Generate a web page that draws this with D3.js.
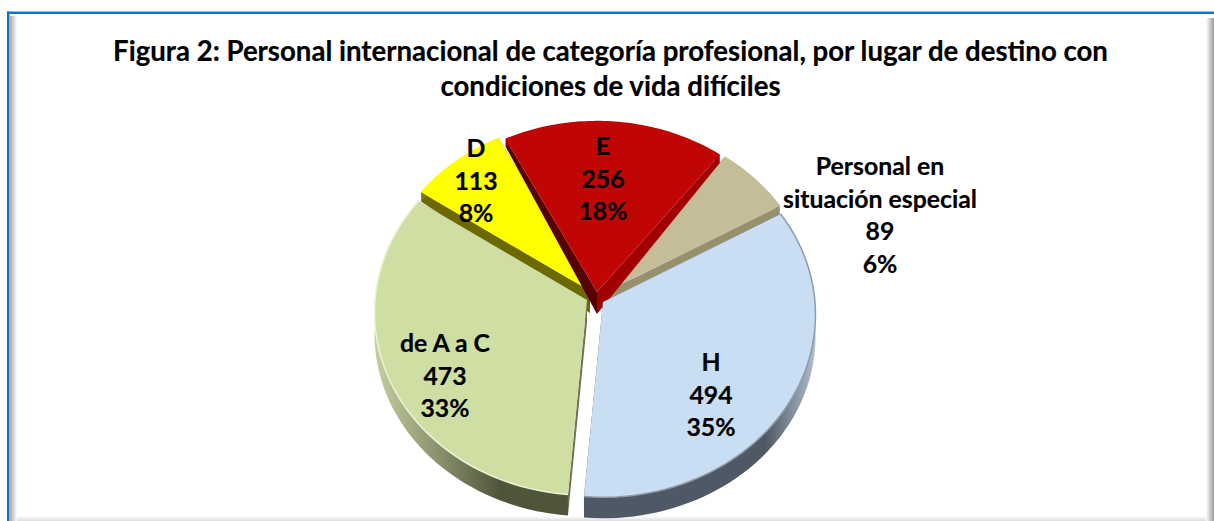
<!DOCTYPE html>
<html>
<head>
<meta charset="utf-8">
<script src="https://cdn.jsdelivr.net/npm/d3@7"></script>
<style>
  html, body { margin: 0; padding: 0; background: #fff; overflow: hidden; }
  text { font-family: Lato, "Open Sans", sans-serif; font-weight: 700; fill: #000; stroke: #000; stroke-width: 0.2px; }
</style>
</head>
<body>
<svg width="1214" height="521"></svg>
<script>
const titleLines = [
    'Figura 2: Personal internacional de categoría profesional, por lugar de destino con',
    'condiciones de vida difíciles'
]
const categories = ['H', 'de A a C', 'D', 'E', 'Personal en situación especial']
const values = [494, 473, 113, 256, 89]
const percents = ['35%', '33%', '8%', '18%', '6%']

// where the pie of each slice sits and how it looks, same order as categories
const centres = [[603, 302], [587, 300], [590, 291], [597, 292], [602, 294]]
const topColors = ['#c9ddf3', '#cfdfa4', '#ffff00', '#c00505', '#c4bd97']
const rimLight = ['#aebccb', '#c6cfa0', '#8f8c00', '#a00000', '#a8a283']
const rimDark = ['#4f5965', '#4f553a', '#6b6900', '#a00000', '#96906f']
const startFace = ['#4f5965', '#6e7452', '#6b6900', '#560000', '#96906f']
const endFace = ['#4f5965', '#6e7452', '#6b6900', '#a00000', '#96906f']
const bevel = ['#8d9bab', '#eef3d8', '#ffff00', '#c00505', '#c4bd97']
const labelPos = [[711, 363], [445, 344], [476, 149], [603, 147], [880, 167]]
const labelLines = [['H'], ['de A a C'], ['D'], ['E'], ['Personal en', 'situación especial']]

const rx = 212, ry = 182, persp = 0.068
const svg = d3.select('svg')

// thickness of the pie gets smaller towards the back
const depth = d3.scaleLinear().domain([-1, -0.5, 0, 1]).range([7, 10, 22, 21])

function project (a, r, c) {
    let u = Math.sin(a) * r
    let v = -Math.cos(a) * r
    let s = 1 / (1 - persp * v)
    return { x: c[0] + rx * u * s, y: c[1] + ry * v * s, d: depth(v) }
}

let line = d3.line().x((d) => d.x).y((d) => d.y)
let slices = d3.pie().sort(null).startAngle(60 * Math.PI / 180).endAngle(420 * Math.PI / 180)(values)

let defs = svg.append('defs')

let shadeRight = defs.append('linearGradient').attr('id', 'shadeRight')
shadeRight.append('stop').attr('offset', 0).attr('stop-color', '#fff')
shadeRight.append('stop').attr('offset', 1).attr('stop-color', '#999')
let shadeLeft = defs.append('linearGradient').attr('id', 'shadeLeft')
shadeLeft.append('stop').attr('offset', 0).attr('stop-color', '#aaa')
shadeLeft.append('stop').attr('offset', 1).attr('stop-color', '#fff')
let shadeBottom = defs.append('linearGradient').attr('id', 'shadeBottom').attr('x2', 0).attr('y2', 1)
shadeBottom.append('stop').attr('offset', 0).attr('stop-color', '#fff')
shadeBottom.append('stop').attr('offset', 1).attr('stop-color', '#ddd')

// frame
svg.append('rect').attr('x', 16).attr('y', 516).attr('width', 1192).attr('height', 5).attr('fill', 'url(#shadeBottom)')
svg.append('rect').attr('x', 10).attr('y', 16).attr('width', 7).attr('height', 505).attr('fill', 'url(#shadeLeft)')
svg.append('rect').attr('x', 1206).attr('y', 18).attr('width', 8).attr('height', 503).attr('fill', 'url(#shadeRight)')
svg.append('rect').attr('x', 7).attr('y', 11.5).attr('width', 1207).attr('height', 2.5).attr('fill', '#0f77c8')
svg.append('rect').attr('x', 7).attr('y', 11.5).attr('width', 2.5).attr('height', 509.5).attr('fill', '#0f77c8')

svg.selectAll('text.title')
.data(titleLines)
.enter()
.append('text')
.attr('class', 'title')
.attr('x', 610.5)
.attr('y', (d, i) => 61 + 35 * i)
.attr('text-anchor', 'middle')
.style('font-size', '27.6px')
.text((d) => d)

// rim gradients
slices.forEach((s, i) => {
    let g = defs.append('linearGradient')
    .attr('id', 'rim' + i)
    .attr('gradientUnits', 'userSpaceOnUse')
    .attr('x1', i == 0 ? 815 : 375).attr('x2', i == 0 ? 765 : 500)
    .attr('y1', 0).attr('y2', 0)
    g.append('stop').attr('offset', 0).attr('stop-color', rimLight[i])
    g.append('stop').attr('offset', 1).attr('stop-color', rimDark[i])
})

// back slices first so the front ones cover them
let order = [4, 2, 3, 1, 0]

order.forEach((i) => {
    let s = slices[i], c = centres[i]
    let arcPts = d3.range(0, 61).map((k) => project(s.startAngle + (s.endAngle - s.startAngle) * k / 60, 1, c))
    let apex = project(0, 0, c)
    let g = svg.append('g').attr('class', 'slice')
    let down = (p) => ({ x: p.x, y: p.y + p.d })

    g.append('path').attr('fill', startFace[i])
    .attr('d', line([apex, arcPts[0], down(arcPts[0]), down(apex)]) + 'Z')
    g.append('path').attr('fill', endFace[i])
    .attr('d', line([apex, arcPts[60], down(arcPts[60]), down(apex)]) + 'Z')
    g.append('path').attr('fill', 'url(#rim' + i + ')')
    .attr('d', line(arcPts.concat(arcPts.map(down).reverse())) + 'Z')

    g.append('path').attr('fill', topColors[i])
    .attr('d', line([apex].concat(arcPts)) + 'Z')

    // bevel on the round edge
    g.append('path').attr('fill', 'none')
    .attr('stroke', bevel[i]).attr('stroke-width', 1.5)
    .attr('d', line(arcPts))
})

categories.forEach((name, i) => {
    let lines = labelLines[i].concat([String(values[i]), percents[i]])
    svg.selectAll('text.label' + i)
    .data(lines)
    .enter()
    .append('text')
    .attr('class', 'label' + i)
    .attr('x', labelPos[i][0])
    .attr('y', (d, k) => labelPos[i][1] + 8 + 32.5 * k)
    .attr('text-anchor', 'middle')
    .style('font-size', '24.8px')
    .text((d) => d)
})
</script>
</body>
</html>
